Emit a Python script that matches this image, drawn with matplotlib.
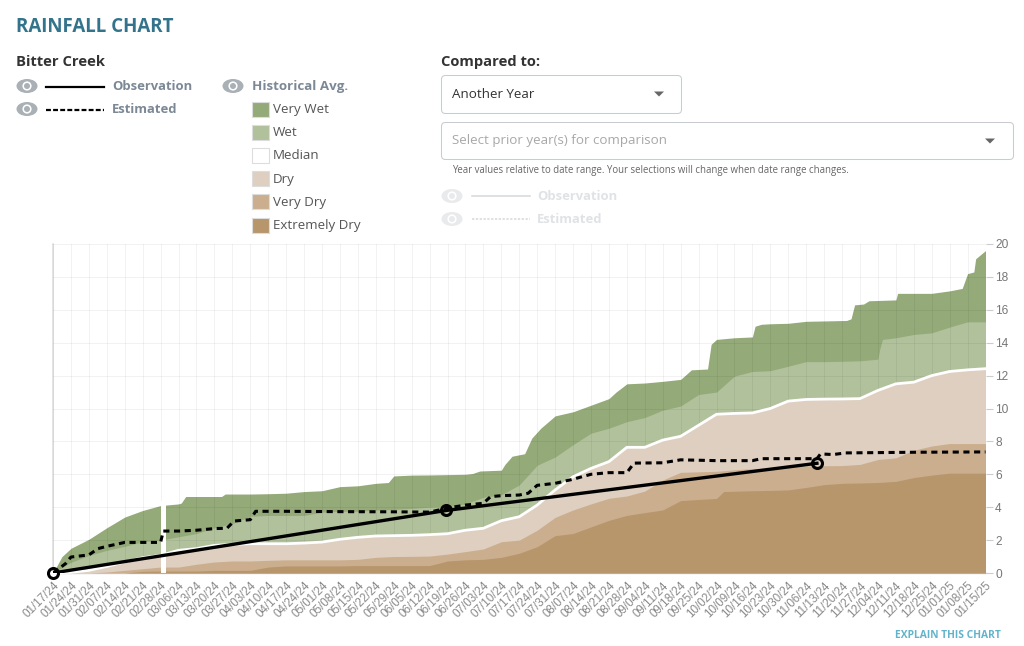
import matplotlib
matplotlib.use("Agg")
import matplotlib.pyplot as plt
from matplotlib.patches import Ellipse, Circle, FancyBboxPatch, Polygon, Rectangle

plt.rcParams["font.family"] = ["Open Sans", "DejaVu Sans"]

# tick labels, one per week
dates = ["01/17/24", "01/24/24", "01/31/24", "02/07/24", "02/14/24", "02/21/24", "02/28/24", "03/06/24",
         "03/13/24", "03/20/24", "03/27/24", "04/03/24", "04/10/24", "04/17/24", "04/24/24", "05/01/24",
         "05/08/24", "05/15/24", "05/22/24", "05/29/24", "06/05/24", "06/12/24", "06/19/24", "06/26/24",
         "07/03/24", "07/10/24", "07/17/24", "07/24/24", "07/31/24", "08/07/24", "08/14/24", "08/21/24",
         "08/28/24", "09/04/24", "09/11/24", "09/18/24", "09/25/24", "10/02/24", "10/09/24", "10/16/24",
         "10/23/24", "10/30/24", "11/06/24", "11/13/24", "11/20/24", "11/27/24", "12/04/24", "12/11/24",
         "12/18/24", "12/25/24", "01/01/25", "01/08/25", "01/15/25"]
weeks = list(range(53))
y_ticks = [0, 2, 4, 6, 8, 10, 12, 14, 16, 18, 20]

# band tops, in weeks since the first date
very_wet_x = [0, 0.5, 1, 2, 3, 4, 5, 6, 7, 7.15, 7.4, 9.4, 9.6, 11, 12, 13, 14, 15, 16, 17, 18, 18.7, 19, 20, 21, 22,
              23, 23.4, 23.8, 25, 25.2, 25.6, 26.3, 26.7, 27.2, 28, 29, 30, 31, 31.4, 32, 33, 34, 35, 35.6, 36.5,
              36.7, 37, 38, 39, 39.15, 39.5, 40, 41, 42, 44.25, 44.5, 44.7, 45.2, 45.5, 47, 47.1, 49, 50, 50.7, 51,
              51.35, 51.45, 52]
very_wet = [0, 1.0, 1.5, 2.05, 2.75, 3.4, 3.8, 4.1, 4.2, 4.25, 4.65, 4.65, 4.8, 4.8, 4.82, 4.85, 4.95, 5.0, 5.25,
            5.3, 5.45, 5.5, 5.9, 5.95, 5.96, 5.98, 6.0, 6.05, 6.2, 6.25, 6.6, 7.1, 7.25, 8.2, 8.8, 9.55, 9.8, 10.2,
            10.6, 11.0, 11.5, 11.55, 11.65, 11.77, 12.35, 12.4, 13.9, 14.2, 14.3, 14.35, 15.0, 15.12, 15.15, 15.18,
            15.3, 15.35, 15.45, 16.3, 16.35, 16.55, 16.6, 17.0, 17.0, 17.15, 17.3, 18.2, 18.3, 19.1, 19.6]
wet_x = weeks[:47] + [46.1, 46.25] + weeks[47:]
wet = [0, 0.65, 1.07, 1.38, 1.62, 1.9, 2.0, 2.2, 2.4, 2.75, 3.0, 3.45, 3.5, 3.5, 3.5, 3.7, 3.75, 3.75, 3.83, 3.87,
       3.93, 4.0, 4.03, 4.2, 4.6, 4.75, 5.35, 6.55, 7.05, 7.8, 8.5, 8.8, 9.2, 9.45, 9.9, 10.15, 10.85, 11.0, 11.97,
       12.25, 12.3, 12.57, 12.85, 12.85, 12.87, 12.9, 13.0, 13.6, 14.2, 14.3, 14.5, 14.6, 14.95, 15.27, 15.27]
median = [0, 0.04, 0.16, 0.4, 0.67, 0.93, 1.07, 1.38, 1.48, 1.68, 1.74, 1.78, 1.78, 1.78, 1.82, 1.88, 2.05, 2.17,
          2.25, 2.27, 2.29, 2.33, 2.39, 2.6, 2.72, 3.18, 3.42, 4.13, 5.05, 5.85, 6.36, 6.77, 7.64, 7.64, 8.08, 8.31,
          8.98, 9.65, 9.7, 9.73, 10.0, 10.45, 10.55, 10.57, 10.58, 10.6, 11.1, 11.5, 11.6, 12.0, 12.25, 12.35, 12.42]
dry = [0, 0, 0, 0.06, 0.16, 0.26, 0.36, 0.36, 0.53, 0.67, 0.73, 0.73, 0.77, 0.8, 0.8, 0.8, 0.8, 0.83, 0.95, 1.0,
       1.01, 1.03, 1.15, 1.3, 1.46, 1.9, 2.0, 2.6, 3.38, 3.83, 4.2, 4.54, 4.68, 4.98, 5.65, 6.12, 6.15, 6.18, 6.27,
       6.35, 6.39, 6.45, 6.5, 6.52, 6.53, 6.6, 6.9, 7.0, 7.46, 7.72, 7.87, 7.87, 7.87]
very_dry_x = weeks[:38] + [37.4] + weeks[38:]
very_dry = [0, 0, 0, 0, 0, 0.1, 0.12, 0.12, 0.12, 0.16, 0.16, 0.16, 0.36, 0.43, 0.43, 0.43, 0.43, 0.45, 0.45, 0.45,
            0.45, 0.45, 0.73, 0.8, 0.83, 0.95, 1.2, 1.6, 2.27, 2.4, 2.8, 3.2, 3.5, 3.67, 3.83, 4.4, 4.47, 4.53, 4.95,
            4.97, 5.0, 5.02, 5.05, 5.2, 5.37, 5.45, 5.47, 5.5, 5.57, 5.8, 5.95, 6.07, 6.07, 6.07]

est_x = [0, 0.7, 1, 2, 2.5, 3, 4, 5, 6, 6.15, 7, 8, 9, 9.7, 10.1, 11, 11.3, 13, 16, 19, 21, 22, 23, 24, 24.4, 25,
         26, 26.5, 27, 28, 28.4, 29, 30, 31, 32, 32.4, 34, 35, 37, 39, 39.5, 41, 42.6, 42.8, 43.5, 44.2, 48, 52]
estimated = [0, 0.57, 0.97, 1.1, 1.48, 1.62, 1.86, 1.86, 1.86, 2.55, 2.55, 2.6, 2.7, 2.72, 3.16, 3.24, 3.75, 3.75,
             3.73, 3.72, 3.7, 3.95, 4.13, 4.24, 4.64, 4.7, 4.74, 4.85, 5.33, 5.45, 5.55, 5.7, 6.0, 6.1, 6.1, 6.68,
             6.7, 6.88, 6.83, 6.83, 6.95, 6.95, 6.95, 7.24, 7.2, 7.3, 7.34, 7.36]
obs_x = [0, 21.92, 42.6]
observation = [0, 3.8, 6.67]

band_colors = ["#94aa78", "#b0c19c", "#decfc0", "#cbae8e", "#b7966c"]
legend_names = ["Very Wet", "Wet", "Median", "Dry", "Very Dry", "Extremely Dry"]
legend_colors = ["#94aa78", "#b0c19c", "#ffffff", "#decfc0", "#cbae8e", "#b7966c"]

fig = plt.figure(figsize=(10.24, 6.46), dpi=100)

# page furniture, drawn in pixel coordinates
ui = fig.add_axes([0, 0, 1, 1])
ui.set_xlim(0, 1024)
ui.set_ylim(646, 0)
ui.axis("off")


def eye(x, y, color):
    ui.add_patch(Ellipse((x, y), 21, 14, color=color, lw=0))
    ui.add_patch(Circle((x, y), 4.6, color="white", lw=0))
    ui.add_patch(Circle((x, y), 3, color=color, lw=0))


def box(x0, y0, x1, y1):
    ui.add_patch(FancyBboxPatch((x0 + 4, y0 + 4), x1 - x0 - 8, y1 - y0 - 8, boxstyle="round,pad=4,rounding_size=4",
                                fc="white", ec="#c8ccd0", lw=0.75))


def arrow(x, y):
    ui.add_patch(Polygon([(x - 5, y - 2.5), (x + 5, y - 2.5), (x, y + 2.5)], color="#666666", lw=0))


ui.text(16, 27.5, "RAINFALL CHART", fontsize=13.5, fontweight="bold", color="#33748c", va="center")
ui.text(16, 62, "Bitter Creek", fontsize=10.6, fontweight="bold", color="#333333", va="center")
ui.text(441, 62, "Compared to:", fontsize=10.6, fontweight="bold", color="#333333", va="center")

eye(27, 86, "#a9b0b6")
eye(27, 109, "#a9b0b6")
eye(233, 86, "#a9b0b6")
ui.plot([46, 104], [87, 87], color="black", lw=1.6)
ui.plot([46, 104], [110, 110], color="black", lw=1.6, dashes=(2.2, 1))
ui.text(112, 86.5, "Observation", fontsize=9.4, fontweight="bold", color="#7c8896", va="center")
ui.text(112, 109.5, "Estimated", fontsize=9.4, fontweight="bold", color="#7c8896", va="center")
ui.text(252, 86.5, "Historical Avg.", fontsize=9.6, fontweight="bold", color="#7c8896", va="center")

for i, (name, col) in enumerate(zip(legend_names, legend_colors)):
    y = 109 + i * 23.2
    ui.add_patch(Rectangle((252, y - 7.5), 17, 15, fc=col, ec="#dddddd", lw=0.8))
    ui.text(273, y + 0.5, name, fontsize=9.6, color="#555555", va="center")

box(441.5, 75.5, 681.5, 113.5)
box(441.5, 122.5, 1013.5, 159.5)
arrow(659, 94)
arrow(990, 141)
ui.text(452, 94.8, "Another Year", fontsize=9.6, color="#333333", va="center")
ui.text(452, 140.8, "Select prior year(s) for comparison", fontsize=9.6, color="#a8a8a8", va="center")
ui.text(452, 170, "Year values relative to date range. Your selections will change when date range changes.",
        fontsize=6.9, color="#666666", va="center")

eye(452, 196, "#e8eaec")
eye(452, 219, "#e8eaec")
ui.plot([472, 530], [196, 196], color="#d5d8db", lw=1.1)
ui.plot([472, 530], [219, 219], color="#d5d8db", lw=1.1, dashes=(1.5, 1))
ui.text(537, 196.5, "Observation", fontsize=9.4, fontweight="bold", color="#e0e3e6", va="center")
ui.text(537, 219.5, "Estimated", fontsize=9.4, fontweight="bold", color="#e0e3e6", va="center")
ui.text(895, 635, "EXPLAIN THIS CHART", fontsize=7.4, fontweight="bold", color="#62b4cb", va="center")

# the chart itself
ax = fig.add_axes([53 / 1024, (646 - 573) / 646, 932.5 / 1024, 329 / 646])
ax.patch.set_alpha(0)
ax.set_xlim(0, 52)
ax.set_ylim(0, 20)

ax.fill_between(very_wet_x, very_wet, 0, color=band_colors[0], lw=0, zorder=1)
ax.fill_between(wet_x, wet, 0, color=band_colors[1], lw=0, zorder=2)
ax.fill_between(weeks, median, 0, color=band_colors[2], lw=0, zorder=3)
ax.fill_between(weeks, dry, 0, color=band_colors[3], lw=0, zorder=4)
ax.fill_between(very_dry_x, very_dry, 0, color=band_colors[4], lw=0, zorder=5)
ax.plot(weeks, median, color="white", lw=2, zorder=6, clip_on=False)

# gap in the historical record
ax.axvspan(6.0, 6.3, ymax=4.4 / 20, color="white", lw=0, zorder=7)

ax.set_xticks(weeks)
ax.set_xticklabels(dates, rotation=45, ha="right", rotation_mode="anchor", fontsize=8.4,
                   family="Liberation Sans", color="#8a8a8a")
ax.set_yticks(y_ticks)
ax.yaxis.tick_right()
ax.set_yticklabels(y_ticks, fontsize=8.6, family="Liberation Sans", color="#777777")
ax.tick_params(axis="x", length=0, pad=5)
ax.tick_params(axis="y", length=5, width=0.8, color="#cccccc", pad=2)
ax.grid(color="black", alpha=0.05, lw=0.7, zorder=8)
ax.set_axisbelow(False)

for side in ["top", "right"]:
    ax.spines[side].set_visible(False)
ax.spines["left"].set_color("#dddddd")
ax.spines["left"].set_linewidth(1.1)
ax.spines["bottom"].set_color("#d6d6d6")
ax.spines["bottom"].set_linewidth(1)

ax.plot(est_x, estimated, color="black", lw=2.2, dashes=(2, 1.5), zorder=10)
ax.plot(obs_x, observation, color="black", lw=2.4, zorder=11)
ax.plot(obs_x, observation, "o", ms=7.2, mfc="none", mec="black", mew=2.2, zorder=12, clip_on=False)

fig.savefig("out.png", dpi=100)
